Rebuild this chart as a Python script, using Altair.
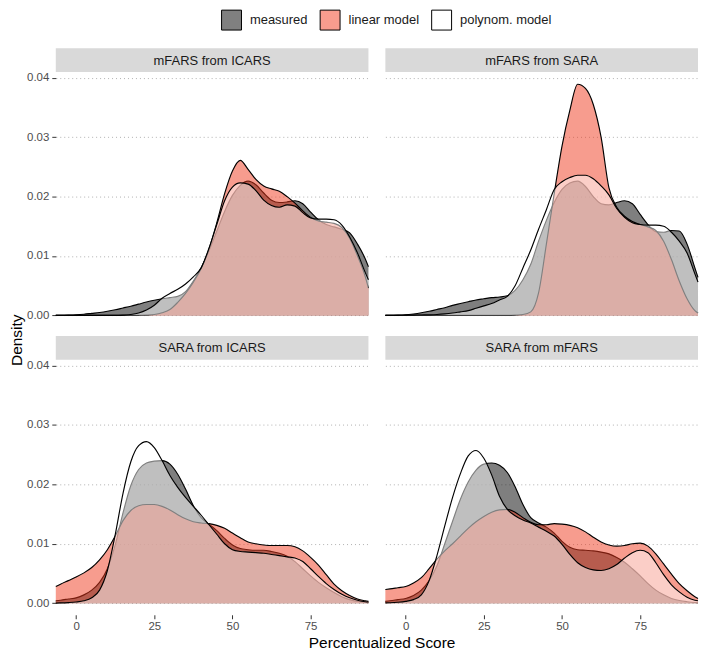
import altair as alt
import pandas as pd

# ---------------- data ----------------
SCORE = [-6.5, -5, -2.5, 0, 2.5, 5, 7.5, 10, 12.5, 15, 17.5, 20, 22.5, 25, 27.5,
         30, 32.5, 35, 37.5, 40, 42.5, 45, 47.5, 50, 52.5, 55, 57.5, 60, 62.5,
         65, 67.5, 70, 72.5, 75, 77.5, 80, 82.5, 85, 87.5, 90, 92.5, 93.5]

PANELS = ["mFARS from ICARS", "mFARS from SARA", "SARA from ICARS", "SARA from mFARS"]
SERIES = ["measured", "linear model", "polynom. model"]

# density values in units of 0.001
mfars_icars_measured = [0, 0.02, 0.05, 0.1, 0.2, 0.35, 0.5, 0.7, 0.95, 1.25, 1.55, 1.9, 2.25, 2.55, 2.8,
                        3.0, 3.2, 4.0, 5.8, 8.0, 10.9, 14.2, 17.5, 20.2, 21.9, 22.6, 22.0, 20.6, 19.4,
                        19.0, 19.1, 19.3, 18.8, 17.4, 16.1, 15.3, 14.9, 14.5, 13.9, 12.0, 9.5, 8.2]
mfars_icars_linear = [0, 0, 0, 0, 0, 0, 0, 0, 0, 0, 0.01, 0.02, 0.05, 0.15, 0.45,
                      1.0, 2.2, 3.7, 5.6, 7.9, 11.2, 15.6, 20.5, 24.3, 26.1, 24.6, 22.9, 21.8, 21.3,
                      20.9, 20.0, 18.9, 17.6, 16.5, 15.9, 15.7, 15.5, 14.8, 13.0, 10.0, 6.5, 4.6]
mfars_icars_polynom = [0, 0, 0, 0, 0, 0, 0, 0, 0, 0.05, 0.15, 0.4, 0.9, 1.7, 2.9,
                       3.7, 4.4, 5.3, 6.5, 8.0, 11.3, 15.3, 19.3, 21.6, 22.3, 22.1, 21.0, 19.4, 18.5,
                       18.2, 18.6, 18.4, 17.3, 16.4, 16.2, 16.2, 16.1, 15.2, 13.2, 10.5, 7.2, 6.0]

mfars_sara_measured = [0, 0.02, 0.05, 0.1, 0.25, 0.45, 0.7, 1.0, 1.3, 1.7, 2.0, 2.3, 2.6, 2.8, 3.0,
                       3.1, 3.3, 4.2, 6.0, 8.6, 12.5, 16.0, 19.0, 21.2, 22.3, 22.6, 21.7, 20.0, 18.8,
                       18.6, 19.0, 19.3, 18.8, 17.0, 15.3, 14.1, 14.0, 14.3, 14.2, 12.0, 8.0, 6.4]
mfars_sara_linear = [0, 0, 0, 0, 0, 0, 0, 0, 0, 0, 0, 0, 0, 0, 0,
                     0, 0, 0.05, 0.15, 0.6, 3.8, 12.0, 20.5, 28.5, 34.5, 38.9, 38.2, 35.5, 30.0,
                     21.5, 18.2, 16.7, 15.8, 15.3, 14.9, 14.3, 12.5, 9.4, 5.8, 2.8, 0.8, 0.4]
mfars_sara_polynom = [0, 0, 0.02, 0.04, 0.06, 0.08, 0.1, 0.15, 0.25, 0.4, 0.6, 0.8, 1.2, 1.6, 2.0,
                      2.6, 3.2, 5.0, 8.0, 11.0, 14.5, 17.8, 21.2, 22.5, 23.2, 23.6, 23.6, 23.0, 21.8,
                      20.3, 18.0, 16.5, 15.6, 15.3, 15.2, 15.2, 15.0, 14.0, 12.5, 10.5, 7.0, 5.6]

sara_icars_measured = [0.4, 0.5, 0.7, 0.9, 1.4, 2.2, 3.5, 5.8, 9.8, 15.2, 19.8, 22.5, 23.6, 23.9, 24.0,
                       23.4, 21.7, 19.2, 16.4, 14.4, 13.3, 12.2, 10.9, 9.8, 9.2, 9.0, 8.9, 8.9, 8.7,
                       8.4, 7.9, 7.0, 5.8, 4.6, 3.5, 2.6, 1.8, 1.1, 0.6, 0.3, 0.15, 0.1]
sara_icars_linear = [2.8, 3.2, 3.8, 4.4, 5.1, 6.0, 7.3, 9.0, 11.3, 13.9, 15.6, 16.4, 16.6, 16.6, 16.3,
                     15.7, 14.9, 14.2, 13.7, 13.5, 13.4, 13.1, 12.6, 11.8, 11.0, 10.3, 10.0, 9.8, 9.7,
                     9.7, 9.7, 9.5, 8.8, 7.7, 6.4, 4.8, 3.2, 2.1, 1.3, 0.7, 0.4, 0.3]
sara_icars_polynom = [0.02, 0.04, 0.1, 0.2, 0.4, 0.9, 2.2, 5.5, 11.5, 18.5, 23.8, 26.5, 27.2, 26.2, 24.0,
                      21.5, 19.5, 17.8, 16.3, 14.8, 13.2, 11.6, 10.0, 9.0, 8.7, 8.6, 8.5, 8.4, 8.2,
                      8.0, 7.8, 7.6, 7.0, 5.8, 4.5, 3.3, 2.3, 1.5, 0.9, 0.5, 0.25, 0.2]

sara_mfars_measured = [0.3, 0.4, 0.6, 0.8, 1.3, 2.2, 3.8, 6.3, 10.0, 13.8, 17.5, 20.4, 22.4, 23.4, 23.6,
                       23.2, 22.0, 19.6, 16.6, 14.4, 13.5, 12.8, 11.8, 10.4, 9.4, 9.0, 8.9, 8.8, 8.6,
                       8.3, 7.7, 6.9, 5.8, 4.6, 3.3, 2.2, 1.4, 0.8, 0.45, 0.25, 0.12, 0.1]
sara_mfars_linear = [2.3, 2.4, 2.6, 2.8, 3.4, 4.3, 5.8, 7.4, 8.8, 10.0, 11.3, 12.6, 13.7, 14.6, 15.3,
                     15.7, 15.8, 15.3, 14.4, 13.6, 13.2, 13.2, 13.4, 13.3, 13.1, 12.7, 12.0, 11.1, 10.3,
                     9.8, 9.6, 9.7, 10.0, 10.1, 9.6, 8.3, 6.6, 4.9, 3.3, 2.1, 1.1, 0.8]
sara_mfars_polynom = [0.05, 0.07, 0.15, 0.3, 0.6, 1.4, 3.8, 8.0, 13.0, 17.8, 21.8, 24.8, 25.7, 24.4, 21.6,
                      18.0, 15.8, 14.7, 14.0, 13.5, 12.8, 12.1, 11.3, 9.9, 8.2, 6.8, 6.0, 5.6, 5.5,
                      5.8, 6.5, 7.6, 8.5, 8.9, 8.5, 6.8, 4.8, 3.1, 1.9, 1.0, 0.5, 0.4]

CURVES = {
    ("mFARS from ICARS", "measured"): mfars_icars_measured,
    ("mFARS from ICARS", "linear model"): mfars_icars_linear,
    ("mFARS from ICARS", "polynom. model"): mfars_icars_polynom,
    ("mFARS from SARA", "measured"): mfars_sara_measured,
    ("mFARS from SARA", "linear model"): mfars_sara_linear,
    ("mFARS from SARA", "polynom. model"): mfars_sara_polynom,
    ("SARA from ICARS", "measured"): sara_icars_measured,
    ("SARA from ICARS", "linear model"): sara_icars_linear,
    ("SARA from ICARS", "polynom. model"): sara_icars_polynom,
    ("SARA from mFARS", "measured"): sara_mfars_measured,
    ("SARA from mFARS", "linear model"): sara_mfars_linear,
    ("SARA from mFARS", "polynom. model"): sara_mfars_polynom,
}

rows = []
for (panel, series), vals in CURVES.items():
    for s, v in zip(SCORE, vals):
        rows.append({"panel": panel, "series": series, "score": s, "density": v / 1000.0})
df = pd.DataFrame(rows)

# ---------------- styling ----------------
FILLS = {"measured": "#000000", "linear model": "#F03A1E", "polynom. model": "#FFFFFF"}
LEGEND_FILLS = ["#808080", "#F89C8E", "#FFFFFF"]
W, H = 314, 256
XDOM = [-6.5, 93.5]
YDOM = [-0.00195, 0.04095]
FONT = "Liberation Sans"


def make_cell(panel, left, bottom, first=False):
    d = df[df["panel"] == panel]

    if bottom:
        xaxis = alt.Axis(values=[0, 25, 50, 75], grid=False, domain=False, ticks=True,
                         tickSize=4, tickColor="#333333", tickWidth=1, labelPadding=2,
                         labelFontSize=11.5, labelColor="#4D4D4D", labelFont=FONT, title=None)
    else:
        xaxis = None

    ycommon = dict(values=[0, 0.01, 0.02, 0.03, 0.04], grid=True, gridDash=[1, 3],
                   gridColor="#B0B0B0", gridWidth=1, domain=False, title=None)
    if left:
        yaxis = alt.Axis(format=".2f", tickSize=4, tickColor="#333333", tickWidth=1,
                         labelPadding=3, labelFontSize=11.5, labelColor="#4D4D4D",
                         labelFont=FONT, **ycommon)
    else:
        yaxis = alt.Axis(labels=False, ticks=False, **ycommon)

    x_enc = alt.X("score:Q", scale=alt.Scale(domain=XDOM, nice=False, zero=False), axis=xaxis)
    y_enc = alt.Y("density:Q", scale=alt.Scale(domain=YDOM, nice=False, zero=False), axis=yaxis)

    lab = pd.DataFrame({"label": [panel]})
    strip = alt.Chart(lab).mark_rect(color="#D9D9D9").encode(
        x=alt.value(0), x2=alt.value(W), y=alt.value(-24), y2=alt.value(0))
    strip_txt = alt.Chart(lab).mark_text(fontSize=13, color="#1A1A1A", font=FONT,
                                         align="center", baseline="middle").encode(
        x=alt.value(W / 2), y=alt.value(-11.5), text="label:N")

    layers = [strip, strip_txt]
    for s in SERIES:
        ds = d[d["series"] == s]
        area = alt.Chart(ds).mark_area(fill=FILLS[s], fillOpacity=0.5,
                                       interpolate="monotone").encode(
            x=x_enc, y=y_enc, y2=alt.datum(0))
        line = alt.Chart(ds).mark_line(color="#000000", strokeWidth=1.15,
                                       interpolate="monotone").encode(x=x_enc, y=y_enc)
        layers += [area, line]

    if first:
        leg_df = pd.DataFrame({"series": SERIES})
        leg = alt.Chart(leg_df).mark_square(size=0, filled=True, strokeWidth=0).encode(
            x=alt.value(0), y=alt.value(0),
            color=alt.Color("series:N", scale=alt.Scale(domain=SERIES, range=LEGEND_FILLS),
                            legend=alt.Legend(orient="none", legendX=166, legendY=-63,
                                              direction="horizontal", title=None,
                                              symbolType="square", symbolSize=400,
                                              symbolStrokeColor="#000000", symbolStrokeWidth=1,
                                              symbolOpacity=1, labelFontSize=13,
                                              labelColor="#1A1A1A", labelFont=FONT,
                                              labelOffset=8, columnPadding=10, padding=0)))
        layers.append(leg)

    return alt.layer(*layers).properties(width=W, height=H)


tl = make_cell(PANELS[0], left=True, bottom=False, first=True)
tr = make_cell(PANELS[1], left=False, bottom=False)
bl = make_cell(PANELS[2], left=True, bottom=True)
br = make_cell(PANELS[3], left=False, bottom=True)

inner = alt.concat(
    tl, tr, bl, br, columns=2,
    spacing=alt.RowColnumber(row=9, column=11),
    title=alt.TitleParams("Density", orient="left", anchor="middle", fontSize=15.5,
                          fontWeight="normal", font=FONT, color="#000000", offset=1),
)
chart = alt.vconcat(
    inner,
    title=alt.TitleParams("Percentualized Score", orient="bottom", anchor="middle", dx=27,
                          fontSize=15.5, fontWeight="normal", font=FONT, color="#000000",
                          offset=4),
).properties(
    padding={"left": 2, "top": 0, "right": 0, "bottom": 0}
).configure_view(stroke="transparent", strokeWidth=0, strokeOpacity=0).configure(
    font=FONT, background="#FFFFFF",
    style={"cell": {"stroke": "transparent", "strokeWidth": 0}})

chart.save("out.html", embed_options={"renderer": "svg", "actions": False})
